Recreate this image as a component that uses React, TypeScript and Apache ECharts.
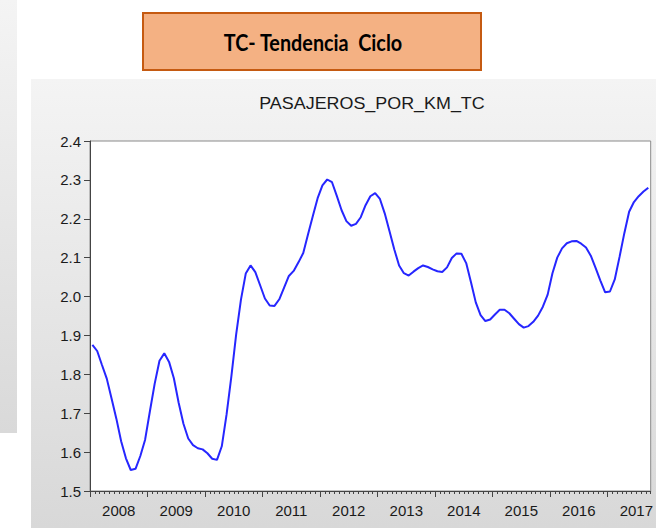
import React, { useEffect, useRef } from "react";
import * as echarts from "echarts";

// Tick labels (years) and y-axis range
const yearLabels = ["2008", "2009", "2010", "2011", "2012", "2013", "2014", "2015", "2016", "2017"];
const yMin = 1.5;
const yMax = 2.4;
const yStep = 0.1;

// Monthly categories 2008M01 .. 2017M09
const monthNames = ["01", "02", "03", "04", "05", "06", "07", "08", "09", "10", "11", "12"];
const categories: string[] = [];
yearLabels.forEach((y) => monthNames.forEach((m) => categories.push(`${y}M${m}`)));
categories.length = 117;

// PASAJEROS_POR_KM_TC (trend-cycle)
const tcValues = [
  1.876, 1.860, 1.824, 1.789, 1.738, 1.686, 1.628, 1.584, 1.554, 1.557, 1.590, 1.632,
  1.705, 1.776, 1.835, 1.854, 1.832, 1.790, 1.727, 1.673, 1.635, 1.618, 1.610, 1.607,
  1.597, 1.583, 1.580, 1.615, 1.697, 1.795, 1.903, 1.992, 2.059, 2.080, 2.063, 2.029,
  1.995, 1.977, 1.976, 1.993, 2.023, 2.053, 2.066, 2.088, 2.112, 2.160, 2.207, 2.253,
  2.286, 2.301, 2.294, 2.259, 2.222, 2.194, 2.182, 2.187, 2.204, 2.235, 2.258, 2.266,
  2.251, 2.214, 2.168, 2.121, 2.080, 2.060, 2.054, 2.064, 2.073, 2.080, 2.076, 2.070,
  2.065, 2.063, 2.075, 2.099, 2.111, 2.110, 2.086, 2.037, 1.985, 1.952, 1.937, 1.941,
  1.954, 1.966, 1.966, 1.957, 1.943, 1.929, 1.920, 1.924, 1.935, 1.951, 1.974, 2.005,
  2.060, 2.100, 2.124, 2.137, 2.142, 2.143, 2.136, 2.126, 2.105, 2.074, 2.041, 2.011,
  2.013, 2.044, 2.102, 2.163, 2.218, 2.243, 2.258, 2.270, 2.280,
];

const chartTitle = "PASAJEROS_POR_KM_TC";
const boxTitle = "TC- Tendencia  Ciclo";

export default function App() {
  const ref = useRef<HTMLDivElement>(null);

  useEffect(() => {
    if (!ref.current) return;
    const chart = echarts.init(ref.current, null, { renderer: "svg" });
    const n = categories.length;
    const yearTicks = yearLabels.map((_, i) => i * 12).filter((v) => v < n);
    const yearLabelPos = yearLabels.map((_, i) => i * 12 + 6);
    const font = "'Liberation Sans', Arial, sans-serif";

    chart.setOption({
      animation: false,
      backgroundColor: "#ffffff",
      graphic: [
        {
          type: "rect",
          z: -10,
          silent: true,
          shape: { x: 0, y: 0, width: 17, height: 433 },
          style: {
            fill: {
              type: "linear", x: 0, y: 0, x2: 0, y2: 1,
              colorStops: [
                { offset: 0, color: "#f4f4f4" },
                { offset: 1, color: "#d9d9d9" },
              ],
            },
          },
        },
        {
          type: "rect",
          z: -10,
          silent: true,
          shape: { x: 31, y: 79, width: 625, height: 449 },
          style: {
            fill: {
              type: "linear", x: 0, y: 0, x2: 0, y2: 1,
              colorStops: [
                { offset: 0, color: "#f4f4f4" },
                { offset: 1, color: "#d8d8d8" },
              ],
            },
          },
        },
        {
          type: "rect",
          z: 10,
          shape: { x: 143, y: 13, width: 338, height: 57 },
          style: { fill: "#f4b183", stroke: "#c55a11", lineWidth: 2 },
        },
        {
          type: "text",
          z: 11,
          x: 313,
          y: 42,
          scaleX: 0.9,
          style: {
            text: boxTitle,
            fill: "#000000",
            font: "bold 22px Lato, 'Open Sans', sans-serif",
            align: "center",
            verticalAlign: "middle",
          },
        },
        {
          type: "text",
          z: 11,
          x: 372,
          y: 104,
          scaleX: 1.12,
          style: {
            text: chartTitle,
            fill: "#1a1a1a",
            font: "16px 'Liberation Sans', Arial, sans-serif",
            align: "center",
            verticalAlign: "middle",
          },
        },
      ],
      grid: {
        left: 90,
        top: 141,
        right: 2,
        bottom: 37,
        show: true,
        backgroundColor: "#ffffff",
        borderColor: "#8a8a8a",
        borderWidth: 1,
      },
      xAxis: [
        {
          type: "category",
          data: categories,
          boundaryGap: true,
          axisLine: { show: true, lineStyle: { color: "#444444", width: 1 } },
          axisTick: { show: true, interval: 0, length: 3, lineStyle: { color: "#444444" } },
          axisLabel: { show: false },
          splitLine: { show: false },
        },
        {
          type: "value",
          min: 0,
          max: n,
          position: "bottom",
          axisLine: { show: false },
          axisTick: {
            show: true,
            customValues: yearTicks,
            length: 6,
            lineStyle: { color: "#444444" },
          },
          axisLabel: {
            show: true,
            customValues: yearLabelPos,
            formatter: (v: number) => yearLabels[Math.round((v - 6) / 12)] ?? "",
            color: "#1a1a1a",
            fontSize: 15,
            fontFamily: font,
            margin: 12,
          },
          splitLine: { show: false },
        },
      ],
      yAxis: {
        type: "value",
        min: yMin,
        max: yMax,
        interval: yStep,
        axisLine: { show: true, lineStyle: { color: "#444444", width: 1 } },
        axisTick: { show: true, length: 6, lineStyle: { color: "#444444" } },
        axisLabel: {
          color: "#1a1a1a",
          fontSize: 15,
          fontFamily: font,
          margin: 9,
          formatter: (v: number) => v.toFixed(1),
        },
        splitLine: { show: false },
      },
      series: [
        {
          type: "line",
          name: chartTitle,
          data: tcValues,
          xAxisIndex: 0,
          yAxisIndex: 0,
          showSymbol: false,
          symbol: "none",
          smooth: false,
          lineStyle: { color: "#2626ff", width: 2 },
        },
      ],
    });

    return () => chart.dispose();
  }, []);

  return (
    <div
      ref={ref}
      style={{ position: "absolute", left: 0, top: 0, width: 656, height: 528 }}
    />
  );
}
